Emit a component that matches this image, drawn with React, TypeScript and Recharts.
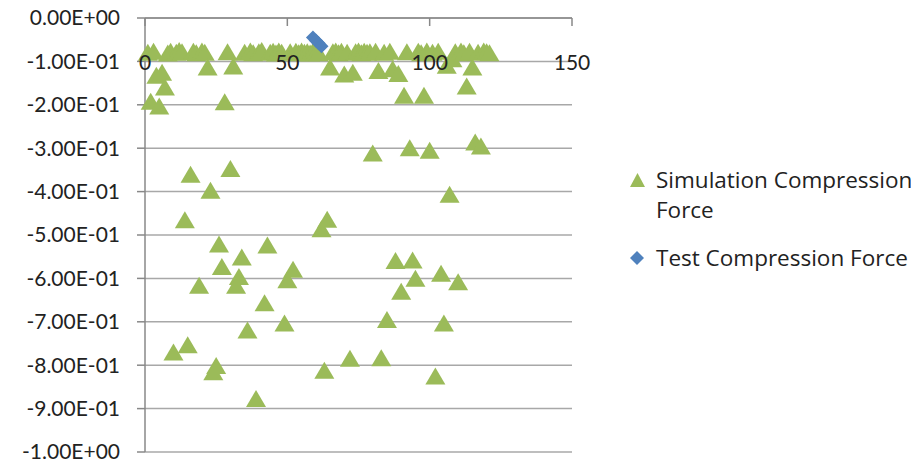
import {
  CartesianGrid,
  Scatter,
  ScatterChart,
  XAxis,
  YAxis,
} from "recharts";

// index along the x axis
const simX = [
  1, 2, 3, 4, 5, 6, 7, 8, 9, 10, 11, 12, 13, 14, 15, 16, 17, 18, 19, 20,
  21, 22, 23, 24, 25, 26, 27, 28, 29, 30, 31, 32, 33, 34, 35, 36, 37, 38, 39, 40,
  41, 42, 43, 44, 45, 46, 47, 48, 49, 50, 51, 52, 53, 54, 55, 56, 57, 58, 59, 60,
  61, 62, 63, 64, 65, 66, 67, 68, 69, 70, 71, 72, 73, 74, 75, 76, 77, 78, 79, 80,
  81, 82, 83, 84, 85, 86, 87, 88, 89, 90, 91, 92, 93, 94, 95, 96, 97, 98, 99, 100,
  101, 102, 103, 104, 105, 106, 107, 108, 109, 110, 111, 112, 113, 114, 115, 116, 117, 118, 119, 120,
  121,
];

const simY = [
  -0.08, -0.193, -0.078, -0.133, -0.204, -0.126, -0.16, -0.082, -0.078, -0.771,
  -0.08, -0.076, -0.079, -0.466, -0.754, -0.361, -0.078, -0.081, -0.617, -0.077,
  -0.08, -0.114, -0.398, -0.816, -0.802, -0.522, -0.574, -0.194, -0.079, -0.348,
  -0.112, -0.617, -0.597, -0.552, -0.08, -0.72, -0.077, -0.081, -0.878, -0.079,
  -0.076, -0.657, -0.524, -0.08, -0.078, -0.082, -0.077, -0.08, -0.704, -0.604,
  -0.079, -0.58, -0.078, -0.081, -0.077, -0.08, -0.079, -0.082, -0.078, -0.08,
  -0.081, -0.487, -0.813, -0.465, -0.114, -0.079, -0.077, -0.081, -0.078, -0.13,
  -0.08, -0.785, -0.126, -0.079, -0.077, -0.081, -0.078, -0.08, -0.079, -0.312,
  -0.078, -0.122, -0.784, -0.08, -0.696, -0.078, -0.118, -0.56, -0.129, -0.631,
  -0.179, -0.079, -0.3, -0.559, -0.601, -0.078, -0.081, -0.179, -0.077, -0.306,
  -0.08, -0.826, -0.078, -0.589, -0.704, -0.11, -0.407, -0.095, -0.079, -0.609,
  -0.077, -0.081, -0.158, -0.078, -0.114, -0.287, -0.08, -0.296, -0.077, -0.079,
  -0.081,
];

const testX = [59, 60, 61, 62];
const testY = [-0.045, -0.052, -0.058, -0.065];

const xTicks = [0, 50, 100, 150];
const yTicks = [0, -0.1, -0.2, -0.3, -0.4, -0.5, -0.6, -0.7, -0.8, -0.9, -1];

const simName = "Simulation Compression Force";
const testName = "Test Compression Force";

const simData = simX.map((x, i) => ({ x, y: simY[i] }));
const testData = testX.map((x, i) => ({ x, y: testY[i] }));

const GREEN = "#9bbb59";
const BLUE = "#4f81bd";
const FONT = "Lato, 'Open Sans', sans-serif";

const sci = (v: number) => {
  if (v === 0) return "0.00E+00";
  const [m, e] = v.toExponential(2).split("e");
  const n = parseInt(e, 10);
  return `${m}E${n < 0 ? "-" : "+"}${String(Math.abs(n)).padStart(2, "0")}`;
};

const Triangle = (props: any) => {
  const { cx, cy } = props;
  return (
    <polygon
      points={`${cx},${cy - 9} ${cx + 10},${cy + 8} ${cx - 10},${cy + 8}`}
      fill={GREEN}
    />
  );
};

const Diamond = (props: any) => {
  const { cx, cy } = props;
  return (
    <polygon
      points={`${cx},${cy - 7} ${cx + 7},${cy} ${cx},${cy + 7} ${cx - 7},${cy}`}
      fill={BLUE}
    />
  );
};

// x labels sit below the top axis line, Excel style
const XTick = (props: any) => {
  const { x, y, payload } = props;
  return (
    <g>
      <line x1={x} y1={y} x2={x} y2={y + 8} stroke="#888" strokeWidth={1.5} />
      <text
        x={x}
        y={y + 43}
        textAnchor="middle"
        dominantBaseline="central"
        fontSize={21}
        fontFamily={FONT}
        fill="#222"
      >
        {payload.value}
      </text>
    </g>
  );
};

function ChartLegend() {
  const row = { display: "flex" };
  const icon = { width: 26, height: 30, display: "flex", alignItems: "center" };
  return (
    <div
      style={{
        position: "absolute",
        left: 622,
        top: 157,
        fontFamily: "'Open Sans', sans-serif",
        fontSize: 22.5,
        color: "#222",
        lineHeight: "30px",
        whiteSpace: "nowrap",
      }}
    >
      <div style={row}>
        <div style={icon}>
          <svg width={15} height={14}>
            <polygon points="7.5,0 15,14 0,14" fill={GREEN} />
          </svg>
        </div>
        <div>
          Simulation Compression
          <br />
          Force
        </div>
      </div>
      <div style={{ ...row, marginTop: 18 }}>
        <div style={icon}>
          <svg width={14} height={14}>
            <polygon points="7,0 14,7 7,14 0,7" fill={BLUE} />
          </svg>
        </div>
        <div>{testName}</div>
      </div>
    </div>
  );
}

export default function App() {
  return (
    <div style={{ position: "relative", width: 911, height: 455 }}>
      <style>{`.recharts-surface { overflow: visible; }`}</style>
      <ScatterChart
        width={911}
        height={455}
        margin={{ top: 9, right: 347, bottom: 11, left: 0 }}
      >
        <CartesianGrid vertical={false} stroke="#a8a8a8" strokeWidth={1.5} />
        <XAxis
          type="number"
          dataKey="x"
          orientation="top"
          domain={[0, 150]}
          ticks={xTicks}
          interval={0}
          height={1}
          tickSize={0}
          tickMargin={0}
          tick={<XTick />}
          stroke="#888"
          strokeWidth={1.5}
        />
        <YAxis
          type="number"
          dataKey="y"
          domain={[-1, 0]}
          ticks={yTicks}
          interval={0}
          width={137}
          tickSize={8}
          tickMargin={17}
          tickFormatter={sci}
          tick={{ fontSize: 21, fontFamily: FONT, fill: "#222" }}
          stroke="#888"
          strokeWidth={1.5}
        />
        <Scatter
          name={simName}
          data={simData}
          shape={<Triangle />}
          isAnimationActive={false}
        />
        <Scatter
          name={testName}
          data={testData}
          shape={<Diamond />}
          isAnimationActive={false}
        />
      </ScatterChart>
      <ChartLegend />
    </div>
  );
}
